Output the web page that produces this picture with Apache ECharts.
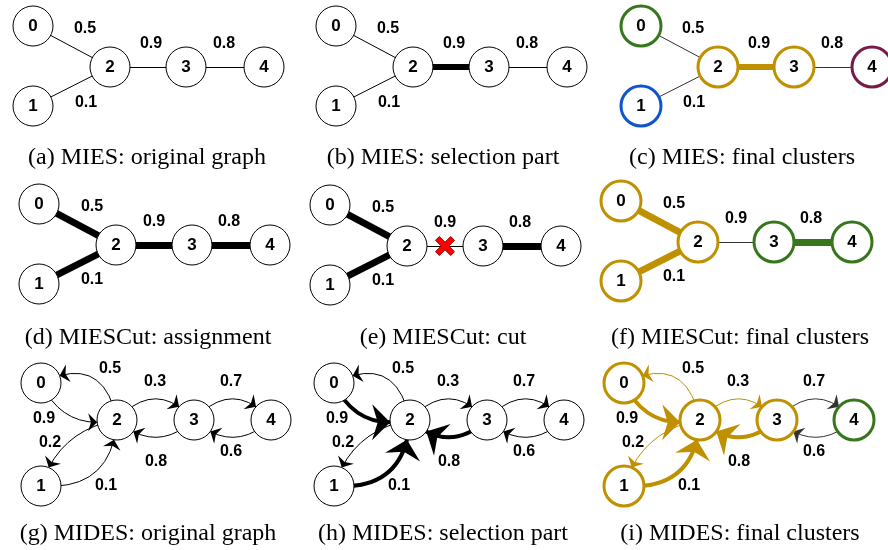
<!DOCTYPE html>
<html><head><meta charset="utf-8">
<script src="https://cdn.jsdelivr.net/npm/echarts@6/dist/echarts.min.js"></script>
<style>html,body{margin:0;padding:0;background:#fff}#c{width:888px;height:550px}</style>
</head><body><div id="c"></div>
<script>
// ---------------- data ----------------
const nodeNames = ['0', '1', '2', '3', '4'];
const undirectedLinks = [[0, 2], [1, 2], [2, 3], [3, 4]];
const undirectedWeights = [0.5, 0.1, 0.9, 0.8];
const directedLinks = [[2, 0], [0, 2], [2, 1], [1, 2], [2, 3], [3, 2], [3, 4], [4, 3]];
const directedWeights = [0.5, 0.9, 0.2, 0.1, 0.3, 0.8, 0.7, 0.6];
const captions = [
  '(a) MIES: original graph', '(b) MIES: selection part', '(c) MIES: final clusters',
  '(d) MIESCut: assignment', '(e) MIESCut: cut', '(f) MIESCut: final clusters',
  '(g) MIDES: original graph', '(h) MIDES: selection part', '(i) MIDES: final clusters'
];
const miesSelected = [2];                 // edge 2-3
const miesClusters = [0, 1, 2, 2, 3];
const miescutAssigned = [0, 1, 2, 3];
const miescutCut = [2];                   // edge 2-3 cut
const miescutClusters = [0, 0, 0, 1, 1];
const midesSelected = [1, 3, 5];          // 0->2, 1->2, 3->2
const midesClusters = [0, 0, 0, 0, 1];

// ---------------- layout / style ----------------
const panelOrigin = [[110, 67], [413, 67], [718, 67], [116, 245], [407, 246], [698, 242], [117, 420], [410, 420], [700, 420]];
const nodeOffsetRow = [
  [[-77, -41], [-77, 39], [0, 0], [76, 0], [154, 0]],
  [[-77, -41], [-77, 39], [0, 0], [76, 0], [154, 0]],
  [[-76, -37], [-76, 66], [0, 0], [77, 0], [154, 0]]
];
const labelOffsetRow = [
  [[-25, -38], [-24, 36], [41, -23], [114, -23]],
  [[-24, -38], [-24, 35], [38, -23], [113, -23]],
  [[-7, -51], [-73, -1], [-67, 23], [-11, 66], [38, -38], [39, 42], [114, -38], [114, 32]]
];
const directedCurveness = [-0.65, -0.4, -0.3, -0.5, 0.55, 0.45, 0.55, 0.45];
const captionPos = [[147, 158], [443, 158], [742, 158], [148, 338], [443, 338], [740, 338], [148, 534], [443, 534], [740, 534]];
const GOLD = '#BF9000', GREEN = '#38761D', BLUE = '#1155CC', PURPLE = '#741B47';

const panels = [
  { dir: false, thick: [], width: 6 },
  { dir: false, thick: miesSelected, width: 6 },
  { dir: false, thick: miesSelected, width: 6, clusters: miesClusters, palette: [GREEN, BLUE, GOLD, PURPLE] },
  { dir: false, thick: miescutAssigned, width: 7 },
  { dir: false, thick: miescutAssigned.filter(i => miescutCut.indexOf(i) < 0), width: 7, cut: miescutCut },
  { dir: false, thick: miescutAssigned.filter(i => miescutCut.indexOf(i) < 0), width: 7, clusters: miescutClusters, palette: [GOLD, GREEN] },
  { dir: true, thick: [], width: 4 },
  { dir: true, thick: midesSelected, width: 4 },
  { dir: true, thick: midesSelected, width: 4, clusters: midesClusters, palette: [GOLD, GREEN] }
];

// arrow path with its tip at the centre of the symbol box
const ARROW = 'path://M0,16 L6,32 L0,27 L-6,32 Z M0,0';
const CROSS = 'path://M4,0 L10,6 L16,0 L20,4 L14,10 L20,16 L16,20 L10,14 L4,20 L0,16 L6,10 L0,4 Z';

const series = [];
panels.forEach((p, pi) => {
  const row = Math.floor(pi / 3);
  const o = panelOrigin[pi];
  const pos = nodeOffsetRow[row].map(d => [o[0] + d[0], o[1] + d[1]]);
  const links = p.dir ? directedLinks : undirectedLinks;
  const weights = p.dir ? directedWeights : undirectedWeights;
  const nodes = nodeNames.map((n, i) => {
    const col = p.clusters ? p.palette[p.clusters[i]] : '#000';
    return {
      name: n, value: pos[i],
      itemStyle: { color: '#fff', borderColor: col, borderWidth: p.clusters ? 3 : 1, opacity: 1 }
    };
  });
  const edges = links.map((l, ei) => {
    const thick = p.thick.indexOf(ei) >= 0;
    let col = '#000';
    if (p.clusters && p.clusters[l[0]] === p.clusters[l[1]]) col = p.palette[p.clusters[l[0]]];
    else if (p.clusters) col = '#333';
    const e = {
      source: l[0], target: l[1],
      lineStyle: { color: col, width: thick ? p.width : 1, opacity: 1, curveness: p.dir ? directedCurveness[ei] : 0 }
    };
    if (p.dir) {
      e.symbol = ['none', ARROW];
      e.symbolSize = thick ? [15, 36] : [7, 18];
      e.itemStyle = { color: col };
    }
    return e;
  });
  series.push({
    type: 'graph', layout: 'none', coordinateSystem: 'cartesian2d',
    xAxisIndex: 0, yAxisIndex: 0, animation: false, silent: true,
    symbol: 'circle', symbolSize: 40,
    edgeSymbol: p.dir ? ['none', ARROW] : ['none', 'none'],
    label: { show: true, position: 'inside', formatter: '{b}', color: '#000',
      fontFamily: 'Liberation Sans', fontWeight: 'bold', fontSize: 17 },
    data: nodes, links: edges, z: 2
  });
  // edge weight labels
  series.push({
    type: 'scatter', xAxisIndex: 0, yAxisIndex: 0, animation: false, silent: true,
    symbolSize: 1, itemStyle: { color: 'rgba(255,255,255,0)', opacity: 1 }, z: 3,
    label: { show: true, position: 'inside', color: '#000', opacity: 1,
      fontFamily: 'Liberation Sans', fontWeight: 'bold', fontSize: 16 },
    data: weights.map((w, ei) => ({
      value: [o[0] + labelOffsetRow[row][ei][0], o[1] + labelOffsetRow[row][ei][1]],
      label: { formatter: w.toFixed(1) }
    }))
  });
  if (p.cut) {
    series.push({
      type: 'scatter', xAxisIndex: 0, yAxisIndex: 0, animation: false, silent: true, z: 4,
      symbol: CROSS, symbolSize: 19,
      itemStyle: { color: '#FF0000', borderColor: '#A00000', borderWidth: 1, opacity: 1 },
      data: p.cut.map(ei => {
        const l = links[ei];
        return [(pos[l[0]][0] + pos[l[1]][0]) / 2, (pos[l[0]][1] + pos[l[1]][1]) / 2];
      })
    });
  }
});

const chart = echarts.init(document.getElementById('c'), null, { renderer: 'canvas' });
chart.setOption({
  animation: false,
  backgroundColor: '#fff',
  grid: { left: 0, right: 0, top: 0, bottom: 0, containLabel: false, outerBoundsMode: 'none' },
  xAxis: { type: 'value', min: 0, max: 888, show: false },
  yAxis: { type: 'value', min: 0, max: 550, inverse: true, show: false },
  graphic: captions.map((t, i) => ({
    type: 'text', x: captionPos[i][0], y: captionPos[i][1], silent: true,
    style: { text: t, align: 'center', verticalAlign: 'middle', fill: '#000',
      font: '24px "Liberation Serif"' }
  })),
  series: series
});
</script></body></html>
